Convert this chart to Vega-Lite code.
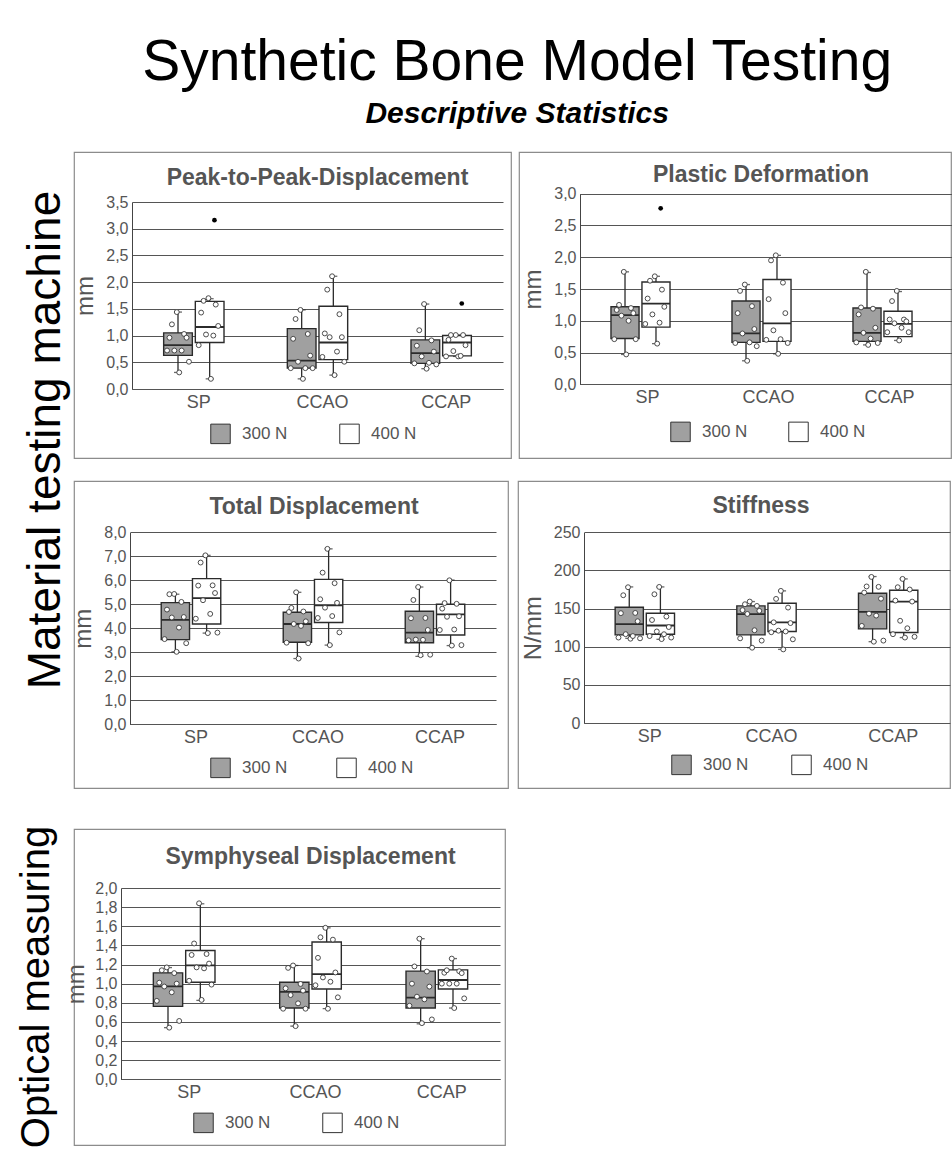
{
"$schema": "https://vega.github.io/schema/vega-lite/v6.json",
"padding": {"left": 17, "top": 34, "right": 0, "bottom": 0},
"title": {"text": "Synthetic Bone Model Testing", "subtitle": "Descriptive Statistics", "font": "Liberation Sans", "fontSize": 57, "fontWeight": "normal", "color": "#000000", "subtitleFont": "Liberation Sans", "subtitleFontSize": 30, "subtitleFontStyle": "italic", "subtitleFontWeight": "bold", "subtitleColor": "#000000", "subtitlePadding": 7, "offset": 21, "anchor": "middle", "dx": 32},
"datasets": {
"boxes": [
{"m":"ptp","cond":"SP","load":"300 N","lo":0.31,"q1":0.63,"med":0.82,"q3":1.05,"hi":1.44},
{"m":"ptp","cond":"SP","load":"400 N","lo":0.19,"q1":0.87,"med":1.16,"q3":1.64,"hi":1.69},
{"m":"ptp","cond":"CCAO","load":"300 N","lo":0.19,"q1":0.39,"med":0.53,"q3":1.13,"hi":1.48},
{"m":"ptp","cond":"CCAO","load":"400 N","lo":0.26,"q1":0.55,"med":0.87,"q3":1.55,"hi":2.11},
{"m":"ptp","cond":"CCAP","load":"300 N","lo":0.38,"q1":0.48,"med":0.67,"q3":0.92,"hi":1.59},
{"m":"ptp","cond":"CCAP","load":"400 N","lo":0.61,"q1":0.62,"med":0.87,"q3":1.0,"hi":1.01},
{"m":"pd","cond":"SP","load":"300 N","lo":0.47,"q1":0.72,"med":1.09,"q3":1.22,"hi":1.77},
{"m":"pd","cond":"SP","load":"400 N","lo":0.64,"q1":0.9,"med":1.27,"q3":1.61,"hi":1.7},
{"m":"pd","cond":"CCAO","load":"300 N","lo":0.37,"q1":0.66,"med":0.8,"q3":1.31,"hi":1.57},
{"m":"pd","cond":"CCAO","load":"400 N","lo":0.48,"q1":0.675,"med":0.96,"q3":1.65,"hi":2.03},
{"m":"pd","cond":"CCAP","load":"300 N","lo":0.62,"q1":0.675,"med":0.81,"q3":1.2,"hi":1.76},
{"m":"pd","cond":"CCAP","load":"400 N","lo":0.69,"q1":0.75,"med":0.95,"q3":1.15,"hi":1.46},
{"m":"td","cond":"SP","load":"300 N","lo":3.02,"q1":3.53,"med":4.35,"q3":5.07,"hi":5.42},
{"m":"td","cond":"SP","load":"400 N","lo":3.8,"q1":4.18,"med":5.26,"q3":6.07,"hi":7.04},
{"m":"td","cond":"CCAO","load":"300 N","lo":2.74,"q1":3.42,"med":4.18,"q3":4.67,"hi":5.5},
{"m":"td","cond":"CCAO","load":"400 N","lo":3.3,"q1":4.24,"med":4.96,"q3":6.04,"hi":7.31},
{"m":"td","cond":"CCAP","load":"300 N","lo":2.83,"q1":3.4,"med":3.82,"q3":4.71,"hi":5.72},
{"m":"td","cond":"CCAP","load":"400 N","lo":3.28,"q1":3.72,"med":4.58,"q3":5.0,"hi":6.01},
{"m":"st","cond":"SP","load":"300 N","lo":111,"q1":115.5,"med":129.5,"q3":151.7,"hi":178.4},
{"m":"st","cond":"SP","load":"400 N","lo":109.7,"q1":116.4,"med":127.8,"q3":143.9,"hi":178.4},
{"m":"st","cond":"CCAO","load":"300 N","lo":98.7,"q1":115.5,"med":142.6,"q3":153.5,"hi":159.2},
{"m":"st","cond":"CCAO","load":"400 N","lo":96.5,"q1":119.9,"med":132,"q3":157,"hi":173.2},
{"m":"st","cond":"CCAP","load":"300 N","lo":106.6,"q1":123.4,"med":145.6,"q3":170,"hi":192},
{"m":"st","cond":"CCAP","load":"400 N","lo":112,"q1":118.6,"med":159.2,"q3":174,"hi":188.9},
{"m":"sd","cond":"SP","load":"300 N","lo":0.54,"q1":0.762,"med":0.972,"q3":1.113,"hi":1.168},
{"m":"sd","cond":"SP","load":"400 N","lo":0.825,"q1":1.014,"med":1.192,"q3":1.347,"hi":1.835},
{"m":"sd","cond":"CCAO","load":"300 N","lo":0.556,"q1":0.745,"med":0.913,"q3":1.014,"hi":1.19},
{"m":"sd","cond":"CCAO","load":"400 N","lo":0.738,"q1":0.944,"med":1.1,"q3":1.436,"hi":1.584},
{"m":"sd","cond":"CCAP","load":"300 N","lo":0.58,"q1":0.745,"med":0.853,"q3":1.131,"hi":1.47},
{"m":"sd","cond":"CCAP","load":"400 N","lo":0.745,"q1":0.944,"med":1.038,"q3":1.144,"hi":1.262}
],
"pts": [
{"m":"ptp","cond":"SP","load":"300 N","id":["a1","a2","a3","a4","a5","a6","a7","a8","a9","a10"],"v":[0.72,0.96,1.21,0.72,1.44,0.31,0.72,1.03,0.96,0.51]},
{"m":"ptp","cond":"SP","load":"400 N","id":["b1","b2","b3","b4","b5","b6","b7","b8","b9"],"v":[0.82,1.43,1.65,1.02,1.7,0.19,1.0,1.58,1.18]},
{"m":"ptp","cond":"CCAO","load":"300 N","id":["a1","a2","a3","a4","a5","a6","a7","a8","a9","a10"],"v":[0.39,0.94,1.31,0.51,1.48,0.19,0.39,1.03,0.625,0.39]},
{"m":"ptp","cond":"CCAO","load":"400 N","id":["b1","b2","b3","b4","b5","b6","b7","b8","b9","b10"],"v":[0.6,1.04,1.86,0.97,2.11,0.26,0.7,1.4,0.97,0.51]},
{"m":"ptp","cond":"CCAP","load":"300 N","id":["a1","a2","a3","a4","a5","a6","a7","a8","a9","a10"],"v":[0.48,0.81,1.1,0.61,1.59,0.38,0.49,0.91,0.7,0.46]},
{"m":"ptp","cond":"CCAP","load":"400 N","id":["b1","b2","b3","b4","b5","b6","b7","b8","b9"],"v":[0.61,0.92,1.01,0.71,1.01,0.61,0.62,1.01,0.82]},
{"m":"pd","cond":"SP","load":"300 N","id":["a1","a2","a3","a4","a5","a6","a7","a8","a9","a10"],"v":[0.71,1.17,1.25,1.08,1.77,0.47,1.0,1.2,1.12,0.71]},
{"m":"pd","cond":"SP","load":"400 N","id":["b1","b2","b3","b4","b5","b6","b7","b8","b9"],"v":[0.95,1.35,1.63,1.1,1.7,0.64,0.97,1.49,1.22]},
{"m":"pd","cond":"CCAO","load":"300 N","id":["a1","a2","a3","a4","a5","a6","a7","a8","a9","a10"],"v":[0.65,1.12,1.47,0.8,1.57,0.37,0.66,1.23,0.87,0.6]},
{"m":"pd","cond":"CCAO","load":"400 N","id":["b1","b2","b3","b4","b5","b6","b7","b8","b9","b10"],"v":[0.7,1.34,1.95,0.85,2.03,0.48,0.71,1.6,1.12,0.65]},
{"m":"pd","cond":"CCAP","load":"300 N","id":["a1","a2","a3","a4","a5","a6","a7","a8","a9","a10"],"v":[0.66,1.1,1.21,0.81,1.77,0.62,0.72,1.19,0.89,0.65]},
{"m":"pd","cond":"CCAP","load":"400 N","id":["b1","b2","b3","b4","b5","b6","b7","b8","b9","b10"],"v":[0.82,1.02,1.31,0.96,1.47,0.69,0.89,1.02,0.99,0.82]},
{"m":"td","cond":"SP","load":"300 N","id":["a1","a2","a3","a4","a5","a6","a7","a8","a9","a10"],"v":[3.55,4.78,5.42,4.45,5.43,3.02,4.03,5.1,4.47,3.38]},
{"m":"td","cond":"SP","load":"400 N","id":["b1","b2","b3","b4","b5","b6","b7","b8","b9","b10"],"v":[4.4,5.78,6.74,5.17,7.04,3.8,4.6,5.79,5.47,3.82]},
{"m":"td","cond":"CCAO","load":"300 N","id":["a1","a2","a3","a4","a5","a6","a7","a8","a9","a10"],"v":[3.4,4.68,4.85,4.18,5.5,2.74,4.1,4.7,4.29,3.38]},
{"m":"td","cond":"CCAO","load":"400 N","id":["b1","b2","b3","b4","b5","b6","b7","b8","b9","b10"],"v":[4.43,5.21,6.32,4.86,7.31,3.3,4.51,5.88,5.06,3.83]},
{"m":"td","cond":"CCAP","load":"300 N","id":["a1","a2","a3","a4","a5","a6","a7","a8","a9","a10"],"v":[3.5,4.42,5.18,3.53,5.72,2.88,3.52,4.43,3.93,2.9]},
{"m":"td","cond":"CCAP","load":"400 N","id":["b1","b2","b3","b4","b5","b6","b7","b8","b9","b10"],"v":[3.93,4.82,5.05,4.48,6.0,3.28,3.95,5.02,4.5,3.3]},
{"m":"st","cond":"SP","load":"300 N","id":["a1","a2","a3","a4","a5","a6","a7","a8","a9","a10"],"v":[112,144,167.5,116.4,178,110.5,114,144.3,133.4,111]},
{"m":"st","cond":"SP","load":"400 N","id":["b1","b2","b3","b4","b5","b6","b7","b8","b9","b10"],"v":[114,135,168.8,120,178.4,110,116.4,139.5,125.8,112]},
{"m":"st","cond":"CCAO","load":"300 N","id":["a1","a2","a3","a4","a5","a6","a7","a8","a9","a10"],"v":[111,148,155.7,143,159.2,98.7,121.6,153.5,147,108]},
{"m":"st","cond":"CCAO","load":"400 N","id":["b1","b2","b3","b4","b5","b6","b7","b8","b9","b10"],"v":[119,132,162.7,121,173.2,96.5,120,151.3,131,109.7]},
{"m":"st","cond":"CCAP","load":"300 N","id":["a1","a2","a3","a4","a5","a6","a7","a8","a9","a10"],"v":[127.3,171,179,143.4,191.5,106.6,140.8,178.5,163,108]},
{"m":"st","cond":"CCAP","load":"400 N","id":["b1","b2","b3","b4","b5","b6","b7","b8","b9","b10"],"v":[116.4,160.5,178,134,188.9,112,124.2,175,159.2,113]},
{"m":"sd","cond":"SP","load":"300 N","id":["a1","a2","a3","a4","a5","a6","a7","a8","a9","a10"],"v":[0.82,1.01,1.14,0.97,1.17,0.54,0.91,1.11,1.0,0.61]},
{"m":"sd","cond":"SP","load":"400 N","id":["b1","b2","b3","b4","b5","b6","b7","b8","b9","b10"],"v":[1.03,1.3,1.42,1.17,1.84,0.83,1.16,1.31,1.21,0.99]},
{"m":"sd","cond":"CCAO","load":"300 N","id":["a1","a2","a3","a4","a5","a6","a7","a8","a9","a10"],"v":[0.738,0.951,1.165,0.881,1.19,0.556,0.794,0.997,0.927,0.738]},
{"m":"sd","cond":"CCAO","load":"400 N","id":["b1","b2","b3","b4","b5","b6","b7","b8","b9","b10"],"v":[0.983,1.27,1.485,1.065,1.584,0.738,1.02,1.46,1.117,0.857]},
{"m":"sd","cond":"CCAP","load":"300 N","id":["a1","a2","a3","a4","a5","a6","a7","a8","a9","a10"],"v":[0.769,1.0,1.18,0.864,1.47,0.587,0.836,1.127,0.969,0.626]},
{"m":"sd","cond":"CCAP","load":"400 N","id":["b1","b2","b3","b4","b5","b6","b7","b8","b9","b10"],"v":[1.0,1.114,1.14,1.0,1.262,0.745,1.0,1.13,1.11,0.846]}
],
"out": [
{"m":"ptp","cond":"SP","load":"400 N","v":3.16},
{"m":"ptp","cond":"CCAP","load":"400 N","v":1.6},
{"m":"pd","cond":"SP","load":"400 N","v":2.77}
]
},
"spacing": 36,
"resolve": {"scale": {"fill": "independent", "xOffset": "independent"}, "legend": {"fill": "independent"}},
"vconcat": [
{
"title": {"text": "Material testing machine", "orient": "left", "anchor": "middle", "font": "Liberation Sans", "fontSize": 46, "fontWeight": "normal", "color": "#000000", "offset": 1, "dx": 30},
"spacing": 21,
"resolve": {"scale": {"fill": "independent", "xOffset": "independent"}, "legend": {"fill": "independent"}},
"vconcat": [
{
"spacing": 6,
"resolve": {"scale": {"fill": "independent", "xOffset": "independent"}, "legend": {"fill": "independent"}},
"hconcat": [
{
"width": 437, "height": 306,
"title": {"text": "Peak-to-Peak-Displacement", "offset": -38, "dx": 25},
"resolve": {"scale": {"xOffset": "independent"}},
"layer": [
{"data": {"name": "boxes"}, "transform": [{"filter": "datum.m === 'ptp'"}],
 "mark": {"type": "rule", "color": "#2b2b2b", "strokeWidth": 1.3},
 "encoding": {
  "x": {"field": "cond", "type": "nominal", "scale": {"domain": ["SP","CCAO","CCAP"], "range": [58, 429], "paddingInner": 0, "paddingOuter": 0}, "axis": {"orient": "bottom", "offset": -69, "ticks": false, "labelPadding": 4, "labelAngle": 0, "labelOffset": 5, "title": null}},
  "xOffset": {"field": "load", "type": "nominal", "scale": {"domain": ["300 N","400 N"], "paddingInner": 0.094, "paddingOuter": 1}},
  "y": {"field": "lo", "type": "quantitative", "scale": {"domain": [0, 3.5], "range": [237, 50], "nice": false, "zero": false}, "axis": {"values": [0,0.5,1,1.5,2,2.5,3,3.5], "tickCount": 30, "labelExpr": "replace(format(datum.value, '.1f'), '.', ',')", "offset": -58, "tickSize": -371, "labelPadding": 375, "title": "mm", "titlePadding": 8}},
  "y2": {"field": "hi"}}},
{"data": {"name": "boxes"}, "transform": [{"filter": "datum.m === 'ptp'"}],
 "mark": {"type": "tick", "color": "#2b2b2b", "size": 8, "thickness": 1.3},
 "encoding": {"x": {"field": "cond", "type": "nominal"}, "xOffset": {"field": "load", "type": "nominal", "scale": {"domain": ["300 N","400 N"], "paddingInner": 0.094, "paddingOuter": 1}}, "y": {"field": "lo", "type": "quantitative"}}},
{"data": {"name": "boxes"}, "transform": [{"filter": "datum.m === 'ptp'"}],
 "mark": {"type": "tick", "color": "#2b2b2b", "size": 8, "thickness": 1.3},
 "encoding": {"x": {"field": "cond", "type": "nominal"}, "xOffset": {"field": "load", "type": "nominal", "scale": {"domain": ["300 N","400 N"], "paddingInner": 0.094, "paddingOuter": 1}}, "y": {"field": "hi", "type": "quantitative"}}},
{"data": {"name": "boxes"}, "transform": [{"filter": "datum.m === 'ptp'"}],
 "mark": {"type": "bar", "stroke": "#2b2b2b", "strokeWidth": 1.4},
 "encoding": {"x": {"field": "cond", "type": "nominal"}, "xOffset": {"field": "load", "type": "nominal", "scale": {"domain": ["300 N","400 N"], "paddingInner": 0.094, "paddingOuter": 1}}, "y": {"field": "q1", "type": "quantitative"}, "y2": {"field": "q3"},
  "fill": {"field": "load", "type": "nominal", "scale": {"domain": ["300 N","400 N"], "range": ["#a0a0a0","#ffffff"]}, "legend": {"orient": "none", "legendX": 136, "legendY": 271, "direction": "horizontal", "title": null, "columnPadding": 49}}}},
{"data": {"name": "boxes"}, "transform": [{"filter": "datum.m === 'ptp'"}],
 "mark": {"type": "bar", "stroke": "#2b2b2b", "strokeWidth": 1.8, "fill": "transparent"},
 "encoding": {"x": {"field": "cond", "type": "nominal"}, "xOffset": {"field": "load", "type": "nominal", "scale": {"domain": ["300 N","400 N"], "paddingInner": 0.094, "paddingOuter": 1}}, "y": {"field": "med", "type": "quantitative"}, "y2": {"field": "med"}}},
{"data": {"name": "pts"}, "transform": [{"filter": "datum.m === 'ptp'"}, {"flatten": ["id", "v"]}],
 "mark": {"type": "circle", "fill": "#ffffff", "stroke": "#3a3a3a", "strokeWidth": 0.9, "size": 24, "opacity": 1},
 "encoding": {"x": {"field": "cond", "type": "nominal"}, "xOffset": {"field": "id", "type": "nominal", "scale": {"type": "band", "domain": ["l1","l2","l3","l4","l5","l6","l7","l8","l9","l10","l11","l12","l13","a1","a2","a3","a4","a5","a6","a7","a8","a9","a10","g1","g2","g3","b1","b2","b3","b4","b5","b6","b7","b8","b9","b10","r1","r2","r3","r4","r5","r6","r7","r8","r9","r10","r11","r12","r13"], "paddingInner": 0, "paddingOuter": 0.89}}, "y": {"field": "v", "type": "quantitative"}}},
{"data": {"name": "out"}, "transform": [{"filter": "datum.m === 'ptp'"}],
 "mark": {"type": "circle", "color": "#000000", "size": 22, "opacity": 1},
 "encoding": {"x": {"field": "cond", "type": "nominal"}, "xOffset": {"field": "load", "type": "nominal", "scale": {"domain": ["300 N","400 N"], "paddingInner": 0.094, "paddingOuter": 1}}, "y": {"field": "v", "type": "quantitative"}}}
]
},
{
"width": 432, "height": 306,
"title": {"text": "Plastic Deformation", "offset": -35, "dx": 26},
"resolve": {"scale": {"xOffset": "independent"}},
"layer": [
{"data": {"name": "boxes"}, "transform": [{"filter": "datum.m === 'pd'"}],
 "mark": {"type": "rule", "color": "#2b2b2b", "strokeWidth": 1.3},
 "encoding": {
  "x": {"field": "cond", "type": "nominal", "scale": {"domain": ["SP","CCAO","CCAP"], "range": [61, 424], "paddingInner": 0, "paddingOuter": 0}, "axis": {"orient": "bottom", "offset": -74, "ticks": false, "labelPadding": 4, "labelAngle": 0, "labelOffset": 7, "title": null}},
  "xOffset": {"field": "load", "type": "nominal", "scale": {"domain": ["300 N","400 N"], "paddingInner": 0.094, "paddingOuter": 1}},
  "y": {"field": "lo", "type": "quantitative", "scale": {"domain": [0, 3], "range": [232.3, 41.7], "nice": false, "zero": false}, "axis": {"values": [0,0.5,1,1.5,2,2.5,3], "tickCount": 30, "labelExpr": "replace(format(datum.value, '.1f'), '.', ',')", "offset": -61, "tickSize": -372, "labelPadding": 376, "title": "mm", "titlePadding": 8}},
  "y2": {"field": "hi"}}},
{"data": {"name": "boxes"}, "transform": [{"filter": "datum.m === 'pd'"}],
 "mark": {"type": "tick", "color": "#2b2b2b", "size": 8, "thickness": 1.3},
 "encoding": {"x": {"field": "cond", "type": "nominal"}, "xOffset": {"field": "load", "type": "nominal", "scale": {"domain": ["300 N","400 N"], "paddingInner": 0.094, "paddingOuter": 1}}, "y": {"field": "lo", "type": "quantitative"}}},
{"data": {"name": "boxes"}, "transform": [{"filter": "datum.m === 'pd'"}],
 "mark": {"type": "tick", "color": "#2b2b2b", "size": 8, "thickness": 1.3},
 "encoding": {"x": {"field": "cond", "type": "nominal"}, "xOffset": {"field": "load", "type": "nominal", "scale": {"domain": ["300 N","400 N"], "paddingInner": 0.094, "paddingOuter": 1}}, "y": {"field": "hi", "type": "quantitative"}}},
{"data": {"name": "boxes"}, "transform": [{"filter": "datum.m === 'pd'"}],
 "mark": {"type": "bar", "stroke": "#2b2b2b", "strokeWidth": 1.4},
 "encoding": {"x": {"field": "cond", "type": "nominal"}, "xOffset": {"field": "load", "type": "nominal", "scale": {"domain": ["300 N","400 N"], "paddingInner": 0.094, "paddingOuter": 1}}, "y": {"field": "q1", "type": "quantitative"}, "y2": {"field": "q3"},
  "fill": {"field": "load", "type": "nominal", "scale": {"domain": ["300 N","400 N"], "range": ["#a0a0a0","#ffffff"]}, "legend": {"orient": "none", "legendX": 151, "legendY": 269, "direction": "horizontal", "title": null, "columnPadding": 38}}}},
{"data": {"name": "boxes"}, "transform": [{"filter": "datum.m === 'pd'"}],
 "mark": {"type": "bar", "stroke": "#2b2b2b", "strokeWidth": 1.8, "fill": "transparent"},
 "encoding": {"x": {"field": "cond", "type": "nominal"}, "xOffset": {"field": "load", "type": "nominal", "scale": {"domain": ["300 N","400 N"], "paddingInner": 0.094, "paddingOuter": 1}}, "y": {"field": "med", "type": "quantitative"}, "y2": {"field": "med"}}},
{"data": {"name": "pts"}, "transform": [{"filter": "datum.m === 'pd'"}, {"flatten": ["id", "v"]}],
 "mark": {"type": "circle", "fill": "#ffffff", "stroke": "#3a3a3a", "strokeWidth": 0.9, "size": 24, "opacity": 1},
 "encoding": {"x": {"field": "cond", "type": "nominal"}, "xOffset": {"field": "id", "type": "nominal", "scale": {"type": "band", "domain": ["l1","l2","l3","l4","l5","l6","l7","l8","l9","l10","l11","l12","l13","a1","a2","a3","a4","a5","a6","a7","a8","a9","a10","g1","g2","g3","b1","b2","b3","b4","b5","b6","b7","b8","b9","b10","r1","r2","r3","r4","r5","r6","r7","r8","r9","r10","r11","r12","r13"], "paddingInner": 0, "paddingOuter": 0.89}}, "y": {"field": "v", "type": "quantitative"}}},
{"data": {"name": "out"}, "transform": [{"filter": "datum.m === 'pd'"}],
 "mark": {"type": "circle", "color": "#000000", "size": 22, "opacity": 1},
 "encoding": {"x": {"field": "cond", "type": "nominal"}, "xOffset": {"field": "load", "type": "nominal", "scale": {"domain": ["300 N","400 N"], "paddingInner": 0.094, "paddingOuter": 1}}, "y": {"field": "v", "type": "quantitative"}}}
]
}
]
},
{
"spacing": 8,
"resolve": {"scale": {"fill": "independent", "xOffset": "independent"}, "legend": {"fill": "independent"}},
"hconcat": [
{
"width": 434, "height": 307,
"title": {"text": "Total Displacement", "offset": -38, "dx": 23},
"resolve": {"scale": {"xOffset": "independent"}},
"layer": [
{"data": {"name": "boxes"}, "transform": [{"filter": "datum.m === 'td'"}],
 "mark": {"type": "rule", "color": "#2b2b2b", "strokeWidth": 1.3},
 "encoding": {
  "x": {"field": "cond", "type": "nominal", "scale": {"domain": ["SP","CCAO","CCAP"], "range": [56, 422], "paddingInner": 0, "paddingOuter": 0}, "axis": {"orient": "bottom", "offset": -64, "ticks": false, "labelPadding": 4, "labelAngle": 0, "labelOffset": 5, "title": null}},
  "xOffset": {"field": "load", "type": "nominal", "scale": {"domain": ["300 N","400 N"], "paddingInner": 0.094, "paddingOuter": 1}},
  "y": {"field": "lo", "type": "quantitative", "scale": {"domain": [0, 8], "range": [243.3, 51.3], "nice": false, "zero": false}, "axis": {"values": [0,1,2,3,4,5,6,7,8], "tickCount": 30, "labelExpr": "replace(format(datum.value, '.1f'), '.', ',')", "offset": -56, "tickSize": -366, "labelPadding": 370, "title": "mm", "titlePadding": 8}},
  "y2": {"field": "hi"}}},
{"data": {"name": "boxes"}, "transform": [{"filter": "datum.m === 'td'"}],
 "mark": {"type": "tick", "color": "#2b2b2b", "size": 8, "thickness": 1.3},
 "encoding": {"x": {"field": "cond", "type": "nominal"}, "xOffset": {"field": "load", "type": "nominal", "scale": {"domain": ["300 N","400 N"], "paddingInner": 0.094, "paddingOuter": 1}}, "y": {"field": "lo", "type": "quantitative"}}},
{"data": {"name": "boxes"}, "transform": [{"filter": "datum.m === 'td'"}],
 "mark": {"type": "tick", "color": "#2b2b2b", "size": 8, "thickness": 1.3},
 "encoding": {"x": {"field": "cond", "type": "nominal"}, "xOffset": {"field": "load", "type": "nominal", "scale": {"domain": ["300 N","400 N"], "paddingInner": 0.094, "paddingOuter": 1}}, "y": {"field": "hi", "type": "quantitative"}}},
{"data": {"name": "boxes"}, "transform": [{"filter": "datum.m === 'td'"}],
 "mark": {"type": "bar", "stroke": "#2b2b2b", "strokeWidth": 1.4},
 "encoding": {"x": {"field": "cond", "type": "nominal"}, "xOffset": {"field": "load", "type": "nominal", "scale": {"domain": ["300 N","400 N"], "paddingInner": 0.094, "paddingOuter": 1}}, "y": {"field": "q1", "type": "quantitative"}, "y2": {"field": "q3"},
  "fill": {"field": "load", "type": "nominal", "scale": {"domain": ["300 N","400 N"], "range": ["#a0a0a0","#ffffff"]}, "legend": {"orient": "none", "legendX": 136, "legendY": 276, "direction": "horizontal", "title": null, "columnPadding": 46}}}},
{"data": {"name": "boxes"}, "transform": [{"filter": "datum.m === 'td'"}],
 "mark": {"type": "bar", "stroke": "#2b2b2b", "strokeWidth": 1.8, "fill": "transparent"},
 "encoding": {"x": {"field": "cond", "type": "nominal"}, "xOffset": {"field": "load", "type": "nominal", "scale": {"domain": ["300 N","400 N"], "paddingInner": 0.094, "paddingOuter": 1}}, "y": {"field": "med", "type": "quantitative"}, "y2": {"field": "med"}}},
{"data": {"name": "pts"}, "transform": [{"filter": "datum.m === 'td'"}, {"flatten": ["id", "v"]}],
 "mark": {"type": "circle", "fill": "#ffffff", "stroke": "#3a3a3a", "strokeWidth": 0.9, "size": 24, "opacity": 1},
 "encoding": {"x": {"field": "cond", "type": "nominal"}, "xOffset": {"field": "id", "type": "nominal", "scale": {"type": "band", "domain": ["l1","l2","l3","l4","l5","l6","l7","l8","l9","l10","l11","l12","l13","a1","a2","a3","a4","a5","a6","a7","a8","a9","a10","g1","g2","g3","b1","b2","b3","b4","b5","b6","b7","b8","b9","b10","r1","r2","r3","r4","r5","r6","r7","r8","r9","r10","r11","r12","r13"], "paddingInner": 0, "paddingOuter": 0.89}}, "y": {"field": "v", "type": "quantitative"}}}
]
},
{
"width": 432, "height": 307,
"title": {"text": "Stiffness", "offset": -37, "dx": 27},
"resolve": {"scale": {"xOffset": "independent"}},
"layer": [
{"data": {"name": "boxes"}, "transform": [{"filter": "datum.m === 'st'"}],
 "mark": {"type": "rule", "color": "#2b2b2b", "strokeWidth": 1.3},
 "encoding": {
  "x": {"field": "cond", "type": "nominal", "scale": {"domain": ["SP","CCAO","CCAP"], "range": [66, 431], "paddingInner": 0, "paddingOuter": 0}, "axis": {"orient": "bottom", "offset": -65, "ticks": false, "labelPadding": 4, "labelAngle": 0, "labelOffset": 5, "title": null}},
  "xOffset": {"field": "load", "type": "nominal", "scale": {"domain": ["300 N","400 N"], "paddingInner": 0.094, "paddingOuter": 1}},
  "y": {"field": "lo", "type": "quantitative", "scale": {"domain": [0, 250], "range": [242, 51.3], "nice": false, "zero": false}, "axis": {"values": [0,50,100,150,200,250], "tickCount": 30, "format": "d", "offset": -66, "tickSize": -366, "labelPadding": 370, "title": "N/mm", "titlePadding": 8}},
  "y2": {"field": "hi"}}},
{"data": {"name": "boxes"}, "transform": [{"filter": "datum.m === 'st'"}],
 "mark": {"type": "tick", "color": "#2b2b2b", "size": 8, "thickness": 1.3},
 "encoding": {"x": {"field": "cond", "type": "nominal"}, "xOffset": {"field": "load", "type": "nominal", "scale": {"domain": ["300 N","400 N"], "paddingInner": 0.094, "paddingOuter": 1}}, "y": {"field": "lo", "type": "quantitative"}}},
{"data": {"name": "boxes"}, "transform": [{"filter": "datum.m === 'st'"}],
 "mark": {"type": "tick", "color": "#2b2b2b", "size": 8, "thickness": 1.3},
 "encoding": {"x": {"field": "cond", "type": "nominal"}, "xOffset": {"field": "load", "type": "nominal", "scale": {"domain": ["300 N","400 N"], "paddingInner": 0.094, "paddingOuter": 1}}, "y": {"field": "hi", "type": "quantitative"}}},
{"data": {"name": "boxes"}, "transform": [{"filter": "datum.m === 'st'"}],
 "mark": {"type": "bar", "stroke": "#2b2b2b", "strokeWidth": 1.4},
 "encoding": {"x": {"field": "cond", "type": "nominal"}, "xOffset": {"field": "load", "type": "nominal", "scale": {"domain": ["300 N","400 N"], "paddingInner": 0.094, "paddingOuter": 1}}, "y": {"field": "q1", "type": "quantitative"}, "y2": {"field": "q3"},
  "fill": {"field": "load", "type": "nominal", "scale": {"domain": ["300 N","400 N"], "range": ["#a0a0a0","#ffffff"]}, "legend": {"orient": "none", "legendX": 153, "legendY": 273, "direction": "horizontal", "title": null, "columnPadding": 40}}}},
{"data": {"name": "boxes"}, "transform": [{"filter": "datum.m === 'st'"}],
 "mark": {"type": "bar", "stroke": "#2b2b2b", "strokeWidth": 1.8, "fill": "transparent"},
 "encoding": {"x": {"field": "cond", "type": "nominal"}, "xOffset": {"field": "load", "type": "nominal", "scale": {"domain": ["300 N","400 N"], "paddingInner": 0.094, "paddingOuter": 1}}, "y": {"field": "med", "type": "quantitative"}, "y2": {"field": "med"}}},
{"data": {"name": "pts"}, "transform": [{"filter": "datum.m === 'st'"}, {"flatten": ["id", "v"]}],
 "mark": {"type": "circle", "fill": "#ffffff", "stroke": "#3a3a3a", "strokeWidth": 0.9, "size": 24, "opacity": 1},
 "encoding": {"x": {"field": "cond", "type": "nominal"}, "xOffset": {"field": "id", "type": "nominal", "scale": {"type": "band", "domain": ["l1","l2","l3","l4","l5","l6","l7","l8","l9","l10","l11","l12","l13","a1","a2","a3","a4","a5","a6","a7","a8","a9","a10","g1","g2","g3","b1","b2","b3","b4","b5","b6","b7","b8","b9","b10","r1","r2","r3","r4","r5","r6","r7","r8","r9","r10","r11","r12","r13"], "paddingInner": 0, "paddingOuter": 0.89}}, "y": {"field": "v", "type": "quantitative"}}}
]
}
]
}
]
},
{
"title": {"text": "Optical measuring", "orient": "left", "anchor": "middle", "font": "Liberation Sans", "fontSize": 40, "fontWeight": "normal", "color": "#000000", "offset": 7},
"resolve": {"scale": {"fill": "independent", "xOffset": "independent"}, "legend": {"fill": "independent"}},
"vconcat": [
{
"width": 431, "height": 316,
"title": {"text": "Symphyseal Displacement", "offset": -40, "dx": 21},
"resolve": {"scale": {"xOffset": "independent"}},
"layer": [
{"data": {"name": "boxes"}, "transform": [{"filter": "datum.m === 'sd'"}],
 "mark": {"type": "rule", "color": "#2b2b2b", "strokeWidth": 1.3},
 "encoding": {
  "x": {"field": "cond", "type": "nominal", "scale": {"domain": ["SP","CCAO","CCAP"], "range": [47, 426], "paddingInner": 0, "paddingOuter": 0}, "axis": {"orient": "bottom", "offset": -66, "ticks": false, "labelPadding": 4, "labelAngle": 0, "labelOffset": 5, "title": null}},
  "xOffset": {"field": "load", "type": "nominal", "scale": {"domain": ["300 N","400 N"], "paddingInner": 0.094, "paddingOuter": 1}},
  "y": {"field": "lo", "type": "quantitative", "scale": {"domain": [0, 2], "range": [250.3, 59], "nice": false, "zero": false}, "axis": {"values": [0,0.2,0.4,0.6,0.8,1,1.2,1.4,1.6,1.8,2], "tickCount": 30, "labelExpr": "replace(format(datum.value, '.1f'), '.', ',')", "offset": -47, "tickSize": -379, "labelPadding": 383, "title": "mm", "titlePadding": 6}},
  "y2": {"field": "hi"}}},
{"data": {"name": "boxes"}, "transform": [{"filter": "datum.m === 'sd'"}],
 "mark": {"type": "tick", "color": "#2b2b2b", "size": 8, "thickness": 1.3},
 "encoding": {"x": {"field": "cond", "type": "nominal"}, "xOffset": {"field": "load", "type": "nominal", "scale": {"domain": ["300 N","400 N"], "paddingInner": 0.094, "paddingOuter": 1}}, "y": {"field": "lo", "type": "quantitative"}}},
{"data": {"name": "boxes"}, "transform": [{"filter": "datum.m === 'sd'"}],
 "mark": {"type": "tick", "color": "#2b2b2b", "size": 8, "thickness": 1.3},
 "encoding": {"x": {"field": "cond", "type": "nominal"}, "xOffset": {"field": "load", "type": "nominal", "scale": {"domain": ["300 N","400 N"], "paddingInner": 0.094, "paddingOuter": 1}}, "y": {"field": "hi", "type": "quantitative"}}},
{"data": {"name": "boxes"}, "transform": [{"filter": "datum.m === 'sd'"}],
 "mark": {"type": "bar", "stroke": "#2b2b2b", "strokeWidth": 1.4},
 "encoding": {"x": {"field": "cond", "type": "nominal"}, "xOffset": {"field": "load", "type": "nominal", "scale": {"domain": ["300 N","400 N"], "paddingInner": 0.094, "paddingOuter": 1}}, "y": {"field": "q1", "type": "quantitative"}, "y2": {"field": "q3"},
  "fill": {"field": "load", "type": "nominal", "scale": {"domain": ["300 N","400 N"], "range": ["#a0a0a0","#ffffff"]}, "legend": {"orient": "none", "legendX": 119, "legendY": 283, "direction": "horizontal", "title": null, "columnPadding": 49}}}},
{"data": {"name": "boxes"}, "transform": [{"filter": "datum.m === 'sd'"}],
 "mark": {"type": "bar", "stroke": "#2b2b2b", "strokeWidth": 1.8, "fill": "transparent"},
 "encoding": {"x": {"field": "cond", "type": "nominal"}, "xOffset": {"field": "load", "type": "nominal", "scale": {"domain": ["300 N","400 N"], "paddingInner": 0.094, "paddingOuter": 1}}, "y": {"field": "med", "type": "quantitative"}, "y2": {"field": "med"}}},
{"data": {"name": "pts"}, "transform": [{"filter": "datum.m === 'sd'"}, {"flatten": ["id", "v"]}],
 "mark": {"type": "circle", "fill": "#ffffff", "stroke": "#3a3a3a", "strokeWidth": 0.9, "size": 24, "opacity": 1},
 "encoding": {"x": {"field": "cond", "type": "nominal"}, "xOffset": {"field": "id", "type": "nominal", "scale": {"type": "band", "domain": ["l1","l2","l3","l4","l5","l6","l7","l8","l9","l10","l11","l12","l13","a1","a2","a3","a4","a5","a6","a7","a8","a9","a10","g1","g2","g3","b1","b2","b3","b4","b5","b6","b7","b8","b9","b10","r1","r2","r3","r4","r5","r6","r7","r8","r9","r10","r11","r12","r13"], "paddingInner": 0, "paddingOuter": 0.89}}, "y": {"field": "v", "type": "quantitative"}}}
]
}
]
}
],
"config": {
"view": {"stroke": "#8c8c8c", "strokeWidth": 1.2},
"font": "Liberation Sans",
"title": {"font": "Liberation Sans", "fontSize": 23, "fontWeight": "bold", "color": "#555555", "anchor": "middle"},
"axis": {"labelFont": "Liberation Sans", "labelFontSize": 16, "labelColor": "#555555", "labelOverlap": false, "labelBound": false, "titleFont": "Liberation Sans", "titleFontSize": 24, "titleFontWeight": "normal", "titleColor": "#555555", "domainColor": "#444444", "domainWidth": 1, "tickColor": "#555555", "tickWidth": 1, "grid": false},
"axisX": {"labelFontSize": 18},
"legend": {"labelFont": "Liberation Sans", "labelFontSize": 17, "labelColor": "#555555", "labelOffset": 11, "symbolType": "square", "symbolSize": 380, "symbolStrokeColor": "#333333", "symbolStrokeWidth": 1, "padding": 0}
}
}
